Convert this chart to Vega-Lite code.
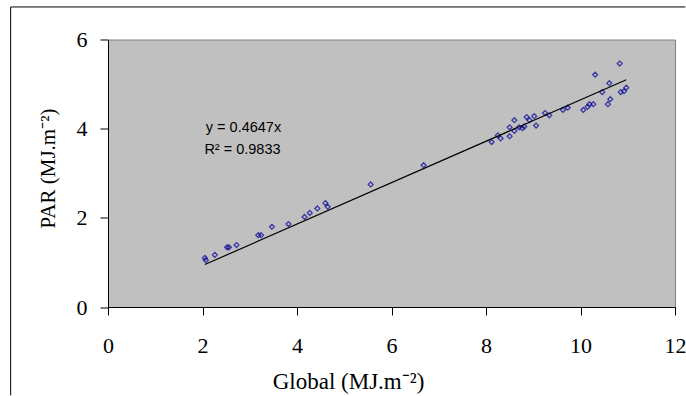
{
  "$schema": "https://vega.github.io/schema/vega-lite/v6.json",
  "width": 567,
  "height": 267.5,
  "autosize": {"type": "none"},
  "padding": {"left": 108, "top": 39.5, "right": 11, "bottom": 89},
  "background": "white",
  "config": {
    "view": {"fill": "#C0C0C0", "stroke": "#808080", "strokeWidth": 1},
    "axis": {
      "grid": false,
      "domainColor": "black",
      "tickColor": "black",
      "tickSize": 8,
      "labelFont": "Liberation Serif",
      "labelFontSize": 22,
      "labelColor": "black",
      "titleFont": "Liberation Serif",
      "titleFontSize": 21,
      "titleFontWeight": "normal",
      "titleColor": "black"
    }
  },
  "layer": [
    {
      "data": {"values": [{"k": 1}]},
      "mark": {"type": "rule", "color": "black", "strokeWidth": 1, "clip": false},
      "encoding": {
        "x": {"datum": -2.06, "type": "quantitative", "scale": {"domain": [0, 12], "nice": false, "zero": false}},
        "y": {"datum": 6.73, "type": "quantitative", "scale": {"domain": [0, 6], "nice": false, "zero": false}},
        "y2": {"datum": -1.98}
      }
    },
    {
      "data": {"values": [{"k": 1}]},
      "mark": {"type": "rule", "color": "black", "strokeWidth": 1, "clip": false},
      "encoding": {
        "x": {"datum": -2.06, "type": "quantitative"},
        "x2": {"datum": 12.22},
        "y": {"datum": 6.73, "type": "quantitative"}
      }
    },
    {
      "data": {"values": [
        {"global": 2.05, "par": 1.10}, {"global": 2.07, "par": 1.05}, {"global": 2.26, "par": 1.17},
        {"global": 2.52, "par": 1.34}, {"global": 2.56, "par": 1.34}, {"global": 2.72, "par": 1.39},
        {"global": 3.18, "par": 1.61}, {"global": 3.24, "par": 1.61}, {"global": 3.47, "par": 1.80},
        {"global": 3.82, "par": 1.86}, {"global": 4.16, "par": 2.02}, {"global": 4.27, "par": 2.11},
        {"global": 4.43, "par": 2.21}, {"global": 4.60, "par": 2.33}, {"global": 4.65, "par": 2.25},
        {"global": 5.56, "par": 2.75}, {"global": 6.68, "par": 3.18}, {"global": 8.12, "par": 3.70},
        {"global": 8.25, "par": 3.85}, {"global": 8.31, "par": 3.78}, {"global": 8.50, "par": 3.83},
        {"global": 8.50, "par": 4.03}, {"global": 8.60, "par": 3.95}, {"global": 8.60, "par": 4.19},
        {"global": 8.70, "par": 4.03}, {"global": 8.77, "par": 4.01}, {"global": 8.81, "par": 4.05},
        {"global": 8.86, "par": 4.26}, {"global": 8.92, "par": 4.19}, {"global": 9.02, "par": 4.28},
        {"global": 9.06, "par": 4.07}, {"global": 9.25, "par": 4.35}, {"global": 9.34, "par": 4.30},
        {"global": 9.63, "par": 4.42}, {"global": 9.73, "par": 4.47}, {"global": 10.06, "par": 4.42},
        {"global": 10.15, "par": 4.49}, {"global": 10.19, "par": 4.55}, {"global": 10.27, "par": 4.55},
        {"global": 10.31, "par": 5.21}, {"global": 10.46, "par": 4.82}, {"global": 10.58, "par": 4.55},
        {"global": 10.61, "par": 5.02}, {"global": 10.63, "par": 4.66}, {"global": 10.83, "par": 5.46},
        {"global": 10.85, "par": 4.82}, {"global": 10.92, "par": 4.84}, {"global": 10.97, "par": 4.92}
      ]},
      "mark": {"type": "point", "shape": "diamond", "filled": false, "stroke": "#000099", "strokeWidth": 1.3, "size": 24},
      "encoding": {
        "x": {
          "field": "global", "type": "quantitative",
          "scale": {"domain": [0, 12], "nice": false, "zero": false},
          "axis": {
            "values": [0, 2, 4, 6, 8, 10, 12],
            "title": "Global (MJ.m⁻²)",
            "titleFontSize": 23,
            "labelBaseline": "alphabetic",
            "labelPadding": 37,
            "labelFlush": false,
            "titleX": 240,
            "titleY": 81,
            "titleAnchor": null,
            "titleAlign": "center",
            "titleBaseline": "alphabetic"
          }
        },
        "y": {
          "field": "par", "type": "quantitative",
          "scale": {"domain": [0, 6], "nice": false, "zero": false},
          "axis": {
            "values": [0, 2, 4, 6],
            "title": "PAR (MJ.m⁻²)",
            "labelPadding": 13,
            "labelFlush": false,
            "titleAngle": -90,
            "titleX": -60,
            "titleY": 128.5,
            "titleAlign": "center",
            "titleBaseline": "middle"
          }
        }
      }
    },
    {
      "data": {"values": [{"global": 2.05, "par": 0.953}, {"global": 10.97, "par": 5.098}]},
      "mark": {"type": "line", "color": "black", "strokeWidth": 1.2},
      "encoding": {
        "x": {"field": "global", "type": "quantitative"},
        "y": {"field": "par", "type": "quantitative"}
      }
    },
    {
      "data": {"values": [
        {"global": 2.07, "par": 4.02, "label": "y = 0.4647x"},
        {"global": 2.04, "par": 3.52, "label": "R² = 0.9833"}
      ]},
      "mark": {"type": "text", "align": "left", "baseline": "middle", "font": "Liberation Sans", "fontSize": 14.5, "color": "black"},
      "encoding": {
        "x": {"field": "global", "type": "quantitative"},
        "y": {"field": "par", "type": "quantitative"},
        "text": {"field": "label"}
      }
    }
  ]
}
